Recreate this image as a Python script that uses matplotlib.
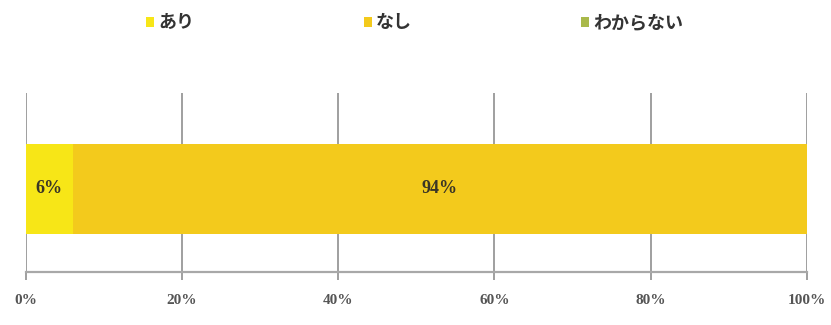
import matplotlib
matplotlib.use("Agg")
import matplotlib.pyplot as plt
from matplotlib.patches import Patch

categories = ["あり", "なし", "わからない"]
values = [6, 94, 0]
colors = ["#F7E617", "#F3CA1C", "#A9B94A"]
tick_values = [0, 20, 40, 60, 80, 100]
tick_labels = ["0%", "20%", "40%", "60%", "80%", "100%"]

plt.rcParams["font.family"] = ["Noto Sans CJK JP", "DejaVu Sans"]

fig = plt.figure(figsize=(8.31, 3.25), dpi=100)
ax = fig.add_axes([0.031, 0.163, 0.940, 0.551])

left = 0
for cat, val, col in zip(categories, values, colors):
    ax.barh(0, val, left=left, height=1.0, color=col, edgecolor="none", zorder=2)
    if val > 0:
        ax.text(left + val / 2, 0, f"{val}%", ha="center", va="center",
                fontsize=13, fontweight="bold", color="#3a3526",
                family="Liberation Serif", zorder=3)
    left += val

ax.set_xlim(0, 100)
ax.set_ylim(-0.928, 1.072)
ax.set_yticks([])
ax.set_xticks(tick_values)
ax.set_xticklabels(tick_labels, family="Liberation Serif", fontsize=11,
                   color="#555555", fontweight="bold")
ax.xaxis.grid(True, color="#8f8f8f", linewidth=1.2, zorder=1)
ax.tick_params(axis="x", length=6, width=1.2, color="#8f8f8f", pad=10)
for side in ["top", "right", "left"]:
    ax.spines[side].set_visible(False)
ax.spines["bottom"].set_color("#a8a8a8")
ax.spines["bottom"].set_linewidth(1.6)

handles = [Patch(facecolor=c, edgecolor="none") for c in colors]
leg = fig.legend(handles, categories, loc="center", bbox_to_anchor=(0.499, 0.93),
                 ncol=3, frameon=False, fontsize=13, handlelength=0.45,
                 handleheight=0.45, handletextpad=0.2, columnspacing=9.4)
for t in leg.get_texts():
    t.set_fontweight("bold")
    t.set_color("#333333")

fig.savefig("out.png", dpi=100)
